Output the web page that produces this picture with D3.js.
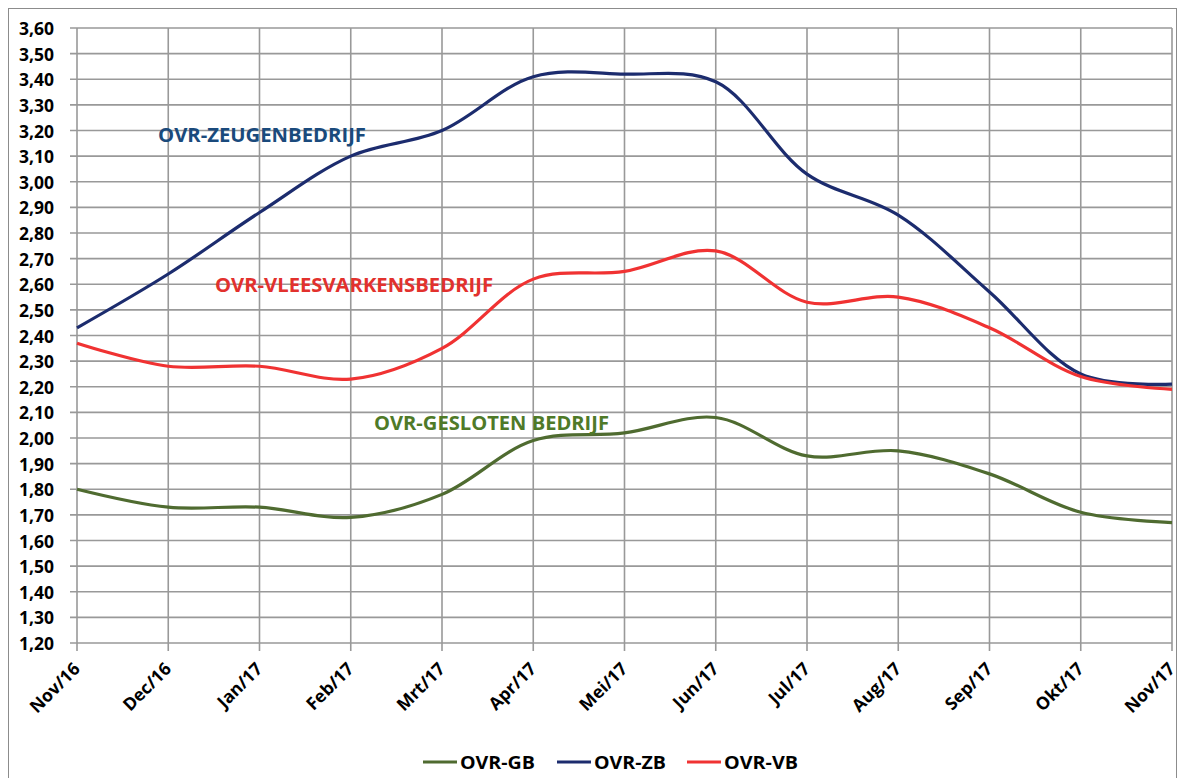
<!DOCTYPE html>
<html>
<head>
<meta charset="utf-8">
<script src="https://cdn.jsdelivr.net/npm/d3@7"></script>
<style>
body{margin:0;background:#fff;}
svg{display:block;}
text{font-family:"Open Sans",sans-serif;font-weight:700;}
</style>
</head>
<body>
<script>
var months = ["Nov/16","Dec/16","Jan/17","Feb/17","Mrt/17","Apr/17","Mei/17","Jun/17","Jul/17","Aug/17","Sep/17","Okt/17","Nov/17"];
var ovrGB = [1.80,1.73,1.73,1.69,1.78,1.99,2.02,2.08,1.93,1.95,1.86,1.71,1.67];
var ovrZB = [2.43,2.64,2.88,3.10,3.20,3.41,3.42,3.39,3.03,2.87,2.57,2.25,2.21];
var ovrVB = [2.37,2.28,2.28,2.23,2.35,2.62,2.65,2.73,2.53,2.55,2.43,2.24,2.19];
var yTicks = d3.range(1.2,3.601,0.1);
var seriesNames = ["OVR-GB","OVR-ZB","OVR-VB"];
var seriesColors = ["#4f6b30","#1c2c6e","#f03232"];

var W = 1177, H = 778;
var svg = d3.select("body").append("svg").attr("width",W).attr("height",H);

// outer border
svg.append("rect").attr("x",8.5).attr("y",8.5).attr("width",1168).attr("height",800)
    .attr("fill","none").attr("stroke","#8c8c8c").attr("stroke-width",1);

var x = d3.scalePoint().domain(months).range([77,1172]);
var y = d3.scaleLinear().domain([1.2,3.6]).range([643,28]);

var fmt = function(d){return d3.format(".2f")(d).replace(".",",");};

// horizontal grid + ticks
svg.append("g").selectAll("line")
    .data(yTicks)
    .enter().append("line")
        .attr("x1",70).attr("x2",1172)
        .attr("y1",function(d){return y(d);})
        .attr("y2",function(d){return y(d);})
        .attr("stroke","#999").attr("stroke-width",1.6);

// vertical grid
svg.append("g").selectAll("line")
    .data(months)
    .enter().append("line")
        .attr("x1",function(d){return x(d);})
        .attr("x2",function(d){return x(d);})
        .attr("y1",28).attr("y2",651)
        .attr("stroke","#999").attr("stroke-width",1.6);

// y labels
svg.append("g").selectAll("text")
    .data(yTicks)
    .enter().append("text")
        .attr("x",54)
        .attr("y",function(d){return y(d);})
        .attr("text-anchor","end")
        .attr("dominant-baseline","central")
        .attr("font-size","17.5px")
        .attr("fill","#000")
        .text(fmt);

// x labels
svg.append("g").selectAll("text")
    .data(months)
    .enter().append("text")
        .attr("transform",function(d){return "translate("+(x(d)+4)+",670) rotate(-45)";})
        .attr("text-anchor","end")
        .attr("font-size","17.5px")
        .attr("fill","#000")
        .text(function(d){return d;});

var line = d3.line()
    .x(function(d,i){return x(months[i]);})
    .y(function(d){return y(d);})
    .curve(d3.curveCatmullRom.alpha(0.5));

var allSeries = [ovrGB,ovrZB,ovrVB];
svg.append("g").selectAll("path")
    .data(allSeries)
    .enter().append("path")
        .attr("d",line)
        .attr("fill","none")
        .attr("stroke",function(d,i){return seriesColors[i];})
        .attr("stroke-width",3.2);

// series labels in plot
var labels = [
    {t:"OVR-ZEUGENBEDRIJF", x:158, y:135, w:208, c:"#1a4a7c"},
    {t:"OVR-VLEESVARKENSBEDRIJF", x:215, y:285, w:278, c:"#e2312d"},
    {t:"OVR-GESLOTEN BEDRIJF", x:374, y:423, w:235, c:"#4f7a28"}
];
svg.append("g").selectAll("text")
    .data(labels)
    .enter().append("text")
        .attr("x",function(d){return d.x;})
        .attr("y",function(d){return d.y;})
        .attr("dominant-baseline","central")
        .attr("font-size","19px")
        .attr("textLength",function(d){return d.w;})
        .attr("lengthAdjust","spacingAndGlyphs")
        .attr("fill",function(d){return d.c;})
        .text(function(d){return d.t;});

// legend
var legX = [423,557,687];
var legW = [75,72,74];
var leg = svg.append("g").selectAll("g")
    .data(seriesNames)
    .enter().append("g")
        .attr("transform",function(d,i){return "translate("+legX[i]+",762)";});
leg.append("line")
    .attr("x1",0).attr("x2",34).attr("y1",0).attr("y2",0)
    .attr("stroke",function(d,i){return seriesColors[i];})
    .attr("stroke-width",3.2);
leg.append("text")
    .attr("x",37).attr("y",0)
    .attr("dominant-baseline","central")
    .attr("font-size","18px")
    .attr("textLength",function(d,i){return legW[i];})
    .attr("lengthAdjust","spacingAndGlyphs")
    .attr("fill","#000")
    .text(function(d){return d;});
</script>
</body>
</html>
